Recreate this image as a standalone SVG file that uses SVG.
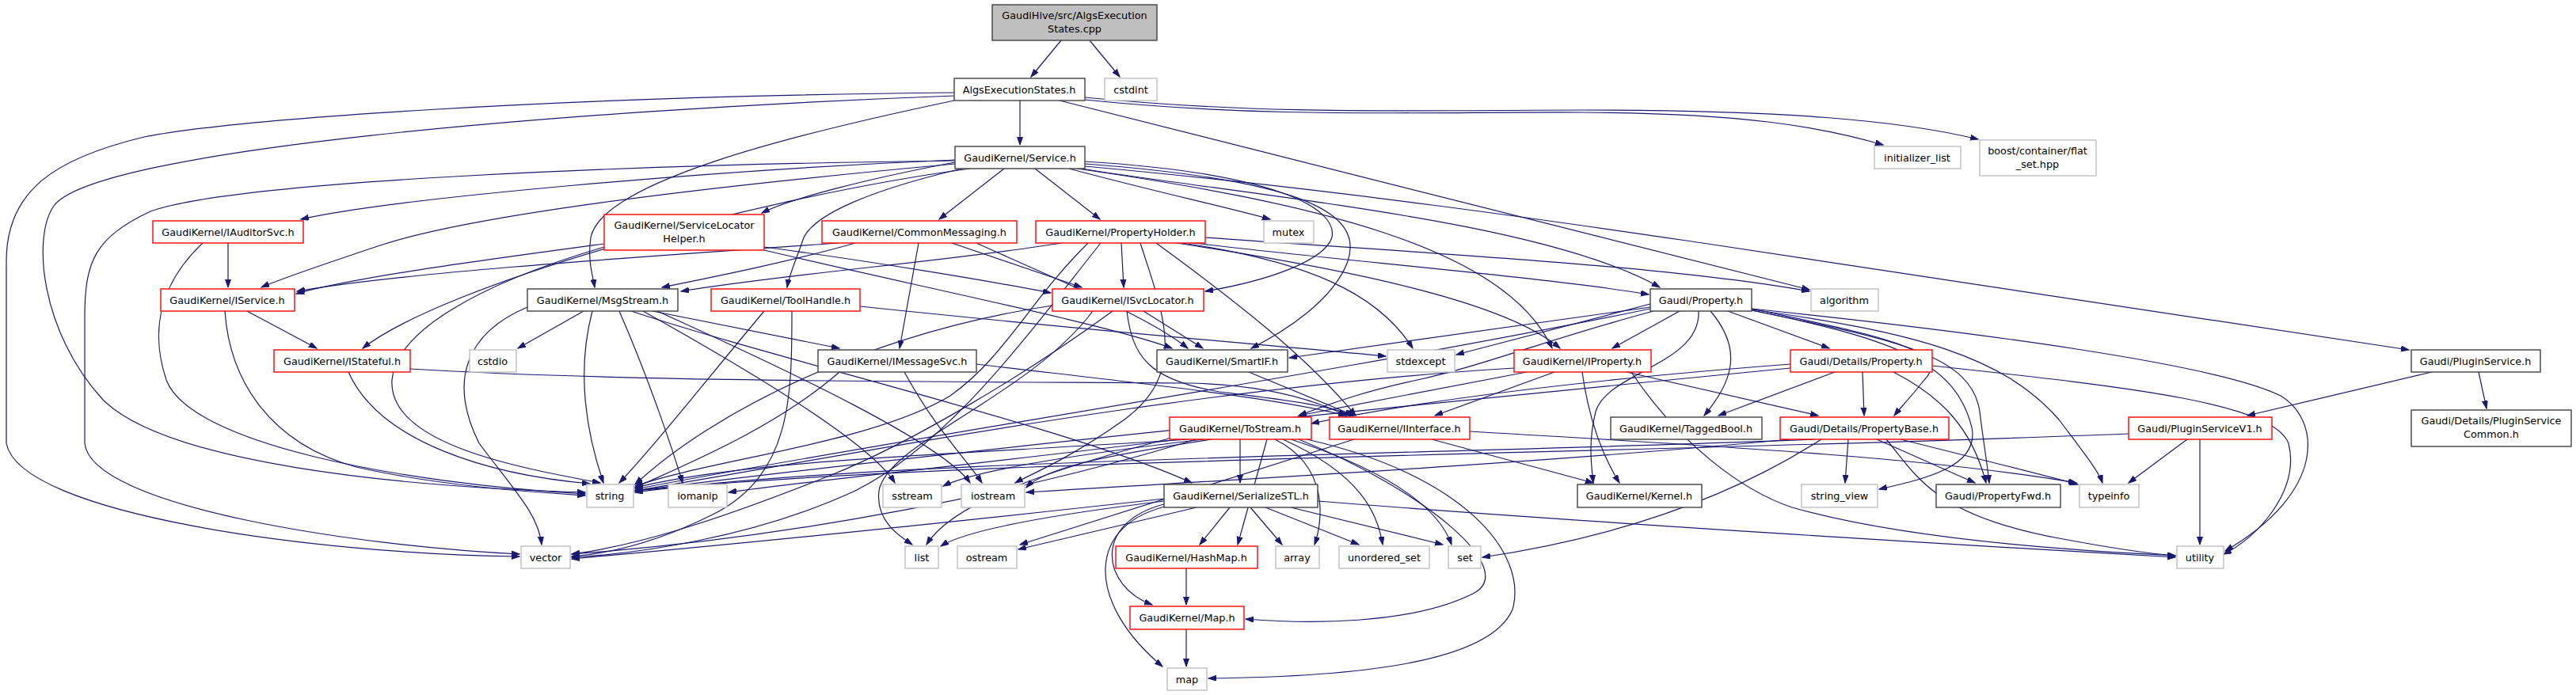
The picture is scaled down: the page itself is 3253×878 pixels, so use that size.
<svg xmlns="http://www.w3.org/2000/svg" width="3253" height="878" viewBox="0 0 3253 878">
<style>
text{font-family:"DejaVu Sans","Liberation Sans",sans-serif;font-size:12.8px;fill:#000;text-anchor:middle}
.b rect{fill:#fff;stroke:#404040;stroke-width:1.4}
.r rect{fill:#fff;stroke:#ff0000;stroke-width:1.4}
.g rect{fill:#fff;stroke:#bfbfbf;stroke-width:1.4}
.root rect{fill:#bfbfbf;stroke:#404040;stroke-width:1.4}
#edges path{fill:none;stroke:#191970;stroke-width:1.2;marker-end:url(#a)}
</style>
<defs>
<marker id="a" markerWidth="12" markerHeight="9" refX="10" refY="3.5" orient="auto" markerUnits="userSpaceOnUse"><path d="M0,0 L10,3.5 L0,7 z" fill="#191970" stroke="#191970" stroke-width="1"/></marker>
</defs>
<rect width="3253" height="878" fill="#fff"/>
<g id="edges">
<path d="M1340,51 L1302,97"/>
<path d="M1376,51 L1414,97"/>
<path d="M1288,127 L1288,183"/>
<path d="M1205,127 C1000,170 760,230 746,300 C742,330 748,345 751,363"/>
<path d="M1205,121 C700,140 120,190 68,260 C40,300 52,420 130,505 C210,585 500,615 739,622"/>
<path d="M1205,117 C700,122 300,150 182,173 C70,200 8,240 8,330 L8,560 C25,650 400,700 656,703"/>
<path d="M1338,127 L2285,366"/>
<path d="M1370,126 C1600,150 1800,141 2000,142 C2200,143 2300,160 2378,183"/>
<path d="M1370,123 C1600,146 1800,139 2000,139 C2250,139 2400,152 2498,176"/>
<path d="M1206,202 C900,215 500,250 380,277"/>
<path d="M1206,205 C1100,225 1000,250 962,269"/>
<path d="M1268,213 L1186,277"/>
<path d="M1307,213 L1389,277"/>
<path d="M1350,213 C1450,240 1550,262 1604,277"/>
<path d="M1206,207 C900,235 600,270 480,310 C420,330 360,350 330,363"/>
<path d="M1225,213 C950,250 560,360 458,440"/>
<path d="M1215,213 C1100,240 1030,270 1015,300 C1005,330 997,345 994,363"/>
<path d="M1370,204 C1600,218 1690,260 1682,300 C1672,330 1600,355 1522,368"/>
<path d="M1370,207 C1650,228 1722,270 1702,330 C1684,380 1620,420 1580,440"/>
<path d="M1365,213 C1600,250 1950,280 2096,363"/>
<path d="M1370,210 C1700,240 2000,285 2150,307 L3042,442"/>
<path d="M1206,203 C800,208 300,228 190,267 C120,300 107,330 107,400 L107,560 C115,640 450,690 656,700"/>
<path d="M1360,213 C1650,255 1900,310 1960,440"/>
<path d="M1416,307 L1419,363"/>
<path d="M1486,307 C1700,340 1900,380 1970,440"/>
<path d="M1507,307 C1700,330 1950,350 2082,372"/>
<path d="M1522,300 C1800,320 2100,335 2285,368"/>
<path d="M1340,307 C1200,330 1000,345 860,368"/>
<path d="M1493,307 C1650,330 1740,370 1784,440"/>
<path d="M1374,307 C1300,380 1270,450 1200,500 C1100,560 900,580 802,614"/>
<path d="M1390,307 C1300,420 1200,560 1080,620 C950,680 800,700 722,704"/>
<path d="M1440,307 C1470,400 1500,470 1420,530 C1350,580 1300,600 1282,610"/>
<path d="M1460,307 C1560,380 1650,450 1712,525"/>
<path d="M1160,307 L1136,440"/>
<path d="M1202,307 L1366,363"/>
<path d="M1080,307 C1000,330 900,350 836,363"/>
<path d="M1233,307 C1350,360 1450,400 1500,440"/>
<path d="M1059,307 C800,325 500,345 375,368"/>
<path d="M763,308 C600,330 450,350 374,371"/>
<path d="M965,312 C1100,330 1250,355 1327,370"/>
<path d="M965,316 C1150,360 1400,410 1480,440"/>
<path d="M763,312 C600,360 500,420 495,480 C490,560 650,590 758,610"/>
<path d="M288,307 L288,363"/>
<path d="M256,307 C200,360 190,420 210,480 C240,560 500,610 739,624"/>
<path d="M312,393 L400,440"/>
<path d="M284,393 C290,480 340,560 450,590 C560,615 680,622 739,626"/>
<path d="M518,466 C800,483 1200,482 1500,484 C1600,486 1660,505 1700,525"/>
<path d="M440,470 C480,560 620,600 745,611"/>
<path d="M737,393 L654,440"/>
<path d="M824,393 L1060,440"/>
<path d="M797,393 C1000,460 1350,540 1505,610"/>
<path d="M782,393 C820,480 850,570 862,610"/>
<path d="M812,393 C950,470 1100,560 1130,610"/>
<path d="M830,393 C1000,470 1190,560 1225,610"/>
<path d="M748,393 C725,480 745,560 762,610"/>
<path d="M666,388 C590,420 565,480 605,560 C650,620 680,650 684,688"/>
<path d="M965,393 C900,470 830,560 782,610"/>
<path d="M1000,393 C1000,500 1000,600 900,650 C820,690 760,700 722,703"/>
<path d="M1086,387 C1400,420 1650,440 1750,450"/>
<path d="M1444,393 L1519,440"/>
<path d="M1423,393 C1430,450 1450,480 1540,495 C1620,505 1680,512 1708,525"/>
<path d="M1405,393 C1300,470 1150,560 1050,600 C900,660 800,690 722,700"/>
<path d="M1329,386 C1100,420 900,520 802,612"/>
<path d="M1380,393 C1300,500 1120,560 1110,620 C1105,660 1140,680 1152,688"/>
<path d="M1233,460 C1400,480 1600,500 1700,525"/>
<path d="M1142,470 C1180,540 1220,580 1240,610"/>
<path d="M1060,470 C980,540 870,585 802,616"/>
<path d="M1577,470 L1710,525"/>
<path d="M2084,384 L1839,448"/>
<path d="M2084,388 L1628,452"/>
<path d="M2121,393 L2036,440"/>
<path d="M2088,393 C1950,430 1880,460 1790,480 C1720,495 1680,510 1640,525"/>
<path d="M2182,393 L2310,440"/>
<path d="M2160,393 C2200,440 2190,480 2152,525"/>
<path d="M2145,393 C2148,460 2030,470 2015,520 C2005,560 2010,590 2012,610"/>
<path d="M2212,390 C2350,420 2470,440 2430,480 C2410,505 2400,515 2392,525"/>
<path d="M2212,392 C2400,430 2490,450 2500,520 C2505,560 2510,590 2512,610"/>
<path d="M2212,392 C2400,430 2470,460 2490,540 C2500,590 2430,605 2373,618"/>
<path d="M2212,391 C2420,420 2530,450 2600,530 C2630,570 2650,595 2655,610"/>
<path d="M2212,390 C2500,420 2800,460 2880,500 C2930,530 2940,620 2810,696"/>
<path d="M2084,390 C1700,470 1100,560 802,618"/>
<path d="M1928,470 L1640,525"/>
<path d="M1963,470 L1812,525"/>
<path d="M1998,470 C2005,520 2020,570 2045,610"/>
<path d="M2054,470 L2296,525"/>
<path d="M1912,465 C1500,490 1100,570 802,620"/>
<path d="M2060,470 C2120,560 2200,620 2263,641 C2400,680 2600,695 2747,702"/>
<path d="M2317,470 L2170,525"/>
<path d="M2352,470 L2354,525"/>
<path d="M2391,470 C2450,500 2490,540 2508,610"/>
<path d="M2440,462 C2700,490 2870,510 2890,560 C2905,620 2850,680 2808,700"/>
<path d="M2261,460 C2000,480 1800,505 1656,535"/>
<path d="M2261,465 C1800,510 1150,575 802,620"/>
<path d="M2292,555 C1800,575 1100,580 802,622"/>
<path d="M2260,555 C2000,580 1700,598 1296,622"/>
<path d="M2334,555 L2330,610"/>
<path d="M2370,555 L2494,610"/>
<path d="M2400,555 C2500,580 2580,600 2624,612"/>
<path d="M2300,555 C2230,600 2100,670 1872,704"/>
<path d="M2382,555 C2420,600 2440,650 2600,680 C2680,695 2720,700 2747,702"/>
<path d="M2688,548 C2000,575 1200,580 802,620"/>
<path d="M2762,555 L2688,610"/>
<path d="M2778,555 L2778,688"/>
<path d="M3071,470 L2838,525"/>
<path d="M3130,470 L3140,516"/>
<path d="M1566,555 L1566,610"/>
<path d="M1500,555 C1200,575 950,580 802,616"/>
<path d="M1520,555 C1350,575 1230,595 1191,614"/>
<path d="M1530,555 C1400,575 1320,590 1296,616"/>
<path d="M1490,555 C1200,590 1000,610 920,622"/>
<path d="M1510,555 C1300,620 1000,680 722,700"/>
<path d="M1480,553 C1300,600 1200,640 1170,688"/>
<path d="M1600,555 L1563,688"/>
<path d="M1610,555 C1680,590 1670,660 1660,688"/>
<path d="M1620,555 C1720,600 1740,650 1746,688"/>
<path d="M1630,555 C1770,600 1820,650 1833,688"/>
<path d="M1640,555 C1800,620 1920,720 1860,750 C1780,790 1650,788 1573,782"/>
<path d="M1650,555 C1850,600 1930,700 1910,770 C1880,840 1700,855 1526,857"/>
<path d="M1710,555 L1288,688"/>
<path d="M1808,555 L2012,610"/>
<path d="M1856,545 C2200,565 2450,580 2622,610"/>
<path d="M1553,641 L1515,688"/>
<path d="M1470,637 C1380,660 1390,740 1455,764"/>
<path d="M1480,638 C1370,660 1370,760 1468,842"/>
<path d="M1579,641 L1619,688"/>
<path d="M1598,641 L1716,688"/>
<path d="M1630,641 L1822,688"/>
<path d="M1470,633 C1330,650 1220,670 1188,690"/>
<path d="M1511,641 L1286,694"/>
<path d="M1470,630 C1200,660 900,690 722,706"/>
<path d="M1664,633 C2000,660 2500,690 2747,704"/>
<path d="M1498,718 L1498,764"/>
<path d="M1498,795 L1498,842"/>
</g>
<g id="n_root" class="root"><rect x="1253" y="6" width="208" height="45"/><text x="1357" y="24">GaudiHive/src/AlgsExecution</text><text x="1357" y="41">States.cpp</text></g>
<g id="n_aes" class="b"><rect x="1205" y="99" width="165" height="28"/><text x="1287" y="118">AlgsExecutionStates.h</text></g>
<g id="n_cstdint" class="g"><rect x="1395" y="99" width="66" height="28"/><text x="1428" y="118">cstdint</text></g>
<g id="n_service" class="b"><rect x="1206" y="185" width="164" height="28"/><text x="1288" y="204">GaudiKernel/Service.h</text></g>
<g id="n_initlist" class="g"><rect x="2367" y="185" width="109" height="28"/><text x="2421" y="204">initializer_list</text></g>
<g id="n_boost" class="g"><rect x="2500" y="177" width="147" height="45"/><text x="2573" y="195">boost/container/flat</text><text x="2573" y="212">_set.hpp</text></g>
<g id="n_iauditorsvc" class="r"><rect x="193" y="279" width="190" height="28"/><text x="288" y="298">GaudiKernel/IAuditorSvc.h</text></g>
<g id="n_slh" class="r"><rect x="763" y="271" width="202" height="45"/><text x="864" y="289">GaudiKernel/ServiceLocator</text><text x="864" y="306">Helper.h</text></g>
<g id="n_commonmessaging" class="r"><rect x="1038" y="279" width="246" height="28"/><text x="1161" y="298">GaudiKernel/CommonMessaging.h</text></g>
<g id="n_propertyholder" class="r"><rect x="1308" y="279" width="214" height="28"/><text x="1415" y="298">GaudiKernel/PropertyHolder.h</text></g>
<g id="n_mutex" class="g"><rect x="1596" y="279" width="63" height="28"/><text x="1627" y="298">mutex</text></g>
<g id="n_iservice" class="r"><rect x="203" y="365" width="169" height="28"/><text x="287" y="384">GaudiKernel/IService.h</text></g>
<g id="n_msgstream" class="b"><rect x="666" y="365" width="190" height="28"/><text x="761" y="384">GaudiKernel/MsgStream.h</text></g>
<g id="n_toolhandle" class="r"><rect x="898" y="365" width="188" height="28"/><text x="992" y="384">GaudiKernel/ToolHandle.h</text></g>
<g id="n_isvclocator" class="r"><rect x="1329" y="365" width="191" height="28"/><text x="1424" y="384">GaudiKernel/ISvcLocator.h</text></g>
<g id="n_property" class="b"><rect x="2084" y="365" width="128" height="28"/><text x="2148" y="384">Gaudi/Property.h</text></g>
<g id="n_algorithm" class="g"><rect x="2287" y="365" width="85" height="28"/><text x="2329" y="384">algorithm</text></g>
<g id="n_istateful" class="r"><rect x="346" y="442" width="172" height="28"/><text x="432" y="461">GaudiKernel/IStateful.h</text></g>
<g id="n_cstdio" class="g"><rect x="593" y="442" width="59" height="28"/><text x="622" y="461">cstdio</text></g>
<g id="n_imessagesvc" class="b"><rect x="1033" y="442" width="200" height="28"/><text x="1133" y="461">GaudiKernel/IMessageSvc.h</text></g>
<g id="n_smartif" class="b"><rect x="1461" y="442" width="165" height="28"/><text x="1543" y="461">GaudiKernel/SmartIF.h</text></g>
<g id="n_stdexcept" class="g"><rect x="1752" y="442" width="85" height="28"/><text x="1794" y="461">stdexcept</text></g>
<g id="n_iproperty" class="r"><rect x="1912" y="442" width="173" height="28"/><text x="1998" y="461">GaudiKernel/IProperty.h</text></g>
<g id="n_detailsproperty" class="r"><rect x="2261" y="442" width="179" height="28"/><text x="2350" y="461">Gaudi/Details/Property.h</text></g>
<g id="n_pluginservice" class="b"><rect x="3045" y="442" width="163" height="28"/><text x="3126" y="461">Gaudi/PluginService.h</text></g>
<g id="n_tostream" class="r"><rect x="1477" y="527" width="179" height="28"/><text x="1566" y="546">GaudiKernel/ToStream.h</text></g>
<g id="n_iinterface" class="r"><rect x="1679" y="527" width="177" height="28"/><text x="1767" y="546">GaudiKernel/IInterface.h</text></g>
<g id="n_taggedbool" class="b"><rect x="2034" y="527" width="191" height="28"/><text x="2129" y="546">GaudiKernel/TaggedBool.h</text></g>
<g id="n_propertybase" class="r"><rect x="2248" y="527" width="213" height="28"/><text x="2354" y="546">Gaudi/Details/PropertyBase.h</text></g>
<g id="n_pluginservicev1" class="r"><rect x="2688" y="527" width="181" height="28"/><text x="2778" y="546">Gaudi/PluginServiceV1.h</text></g>
<g id="n_pluginservicecommon" class="b"><rect x="3045" y="518" width="202" height="46"/><text x="3146" y="536">Gaudi/Details/PluginService</text><text x="3146" y="553">Common.h</text></g>
<g id="n_string" class="g"><rect x="741" y="612" width="59" height="29"/><text x="770" y="631">string</text></g>
<g id="n_iomanip" class="g"><rect x="844" y="612" width="74" height="29"/><text x="881" y="631">iomanip</text></g>
<g id="n_sstream" class="g"><rect x="1115" y="612" width="74" height="29"/><text x="1152" y="631">sstream</text></g>
<g id="n_iostream" class="g"><rect x="1214" y="612" width="80" height="29"/><text x="1254" y="631">iostream</text></g>
<g id="n_serializestl" class="b"><rect x="1470" y="612" width="194" height="29"/><text x="1567" y="631">GaudiKernel/SerializeSTL.h</text></g>
<g id="n_kernel" class="b"><rect x="1992" y="612" width="157" height="29"/><text x="2070" y="631">GaudiKernel/Kernel.h</text></g>
<g id="n_stringview" class="g"><rect x="2275" y="612" width="96" height="29"/><text x="2323" y="631">string_view</text></g>
<g id="n_propertyfwd" class="b"><rect x="2445" y="612" width="157" height="29"/><text x="2523" y="631">Gaudi/PropertyFwd.h</text></g>
<g id="n_typeinfo" class="g"><rect x="2626" y="612" width="75" height="29"/><text x="2663" y="631">typeinfo</text></g>
<g id="n_vector" class="g"><rect x="658" y="690" width="62" height="28"/><text x="689" y="709">vector</text></g>
<g id="n_list" class="g"><rect x="1143" y="690" width="42" height="28"/><text x="1164" y="709">list</text></g>
<g id="n_ostream" class="g"><rect x="1209" y="690" width="75" height="28"/><text x="1246" y="709">ostream</text></g>
<g id="n_hashmap" class="r"><rect x="1409" y="690" width="179" height="28"/><text x="1498" y="709">GaudiKernel/HashMap.h</text></g>
<g id="n_array" class="g"><rect x="1611" y="690" width="55" height="28"/><text x="1638" y="709">array</text></g>
<g id="n_unorderedset" class="g"><rect x="1691" y="690" width="114" height="28"/><text x="1748" y="709">unordered_set</text></g>
<g id="n_set" class="g"><rect x="1829" y="690" width="41" height="28"/><text x="1850" y="709">set</text></g>
<g id="n_utility" class="g"><rect x="2749" y="690" width="59" height="28"/><text x="2778" y="709">utility</text></g>
<g id="n_map_h" class="r"><rect x="1427" y="766" width="144" height="29"/><text x="1499" y="785">GaudiKernel/Map.h</text></g>
<g id="n_map" class="g"><rect x="1474" y="844" width="50" height="28"/><text x="1499" y="863">map</text></g>
</svg>
